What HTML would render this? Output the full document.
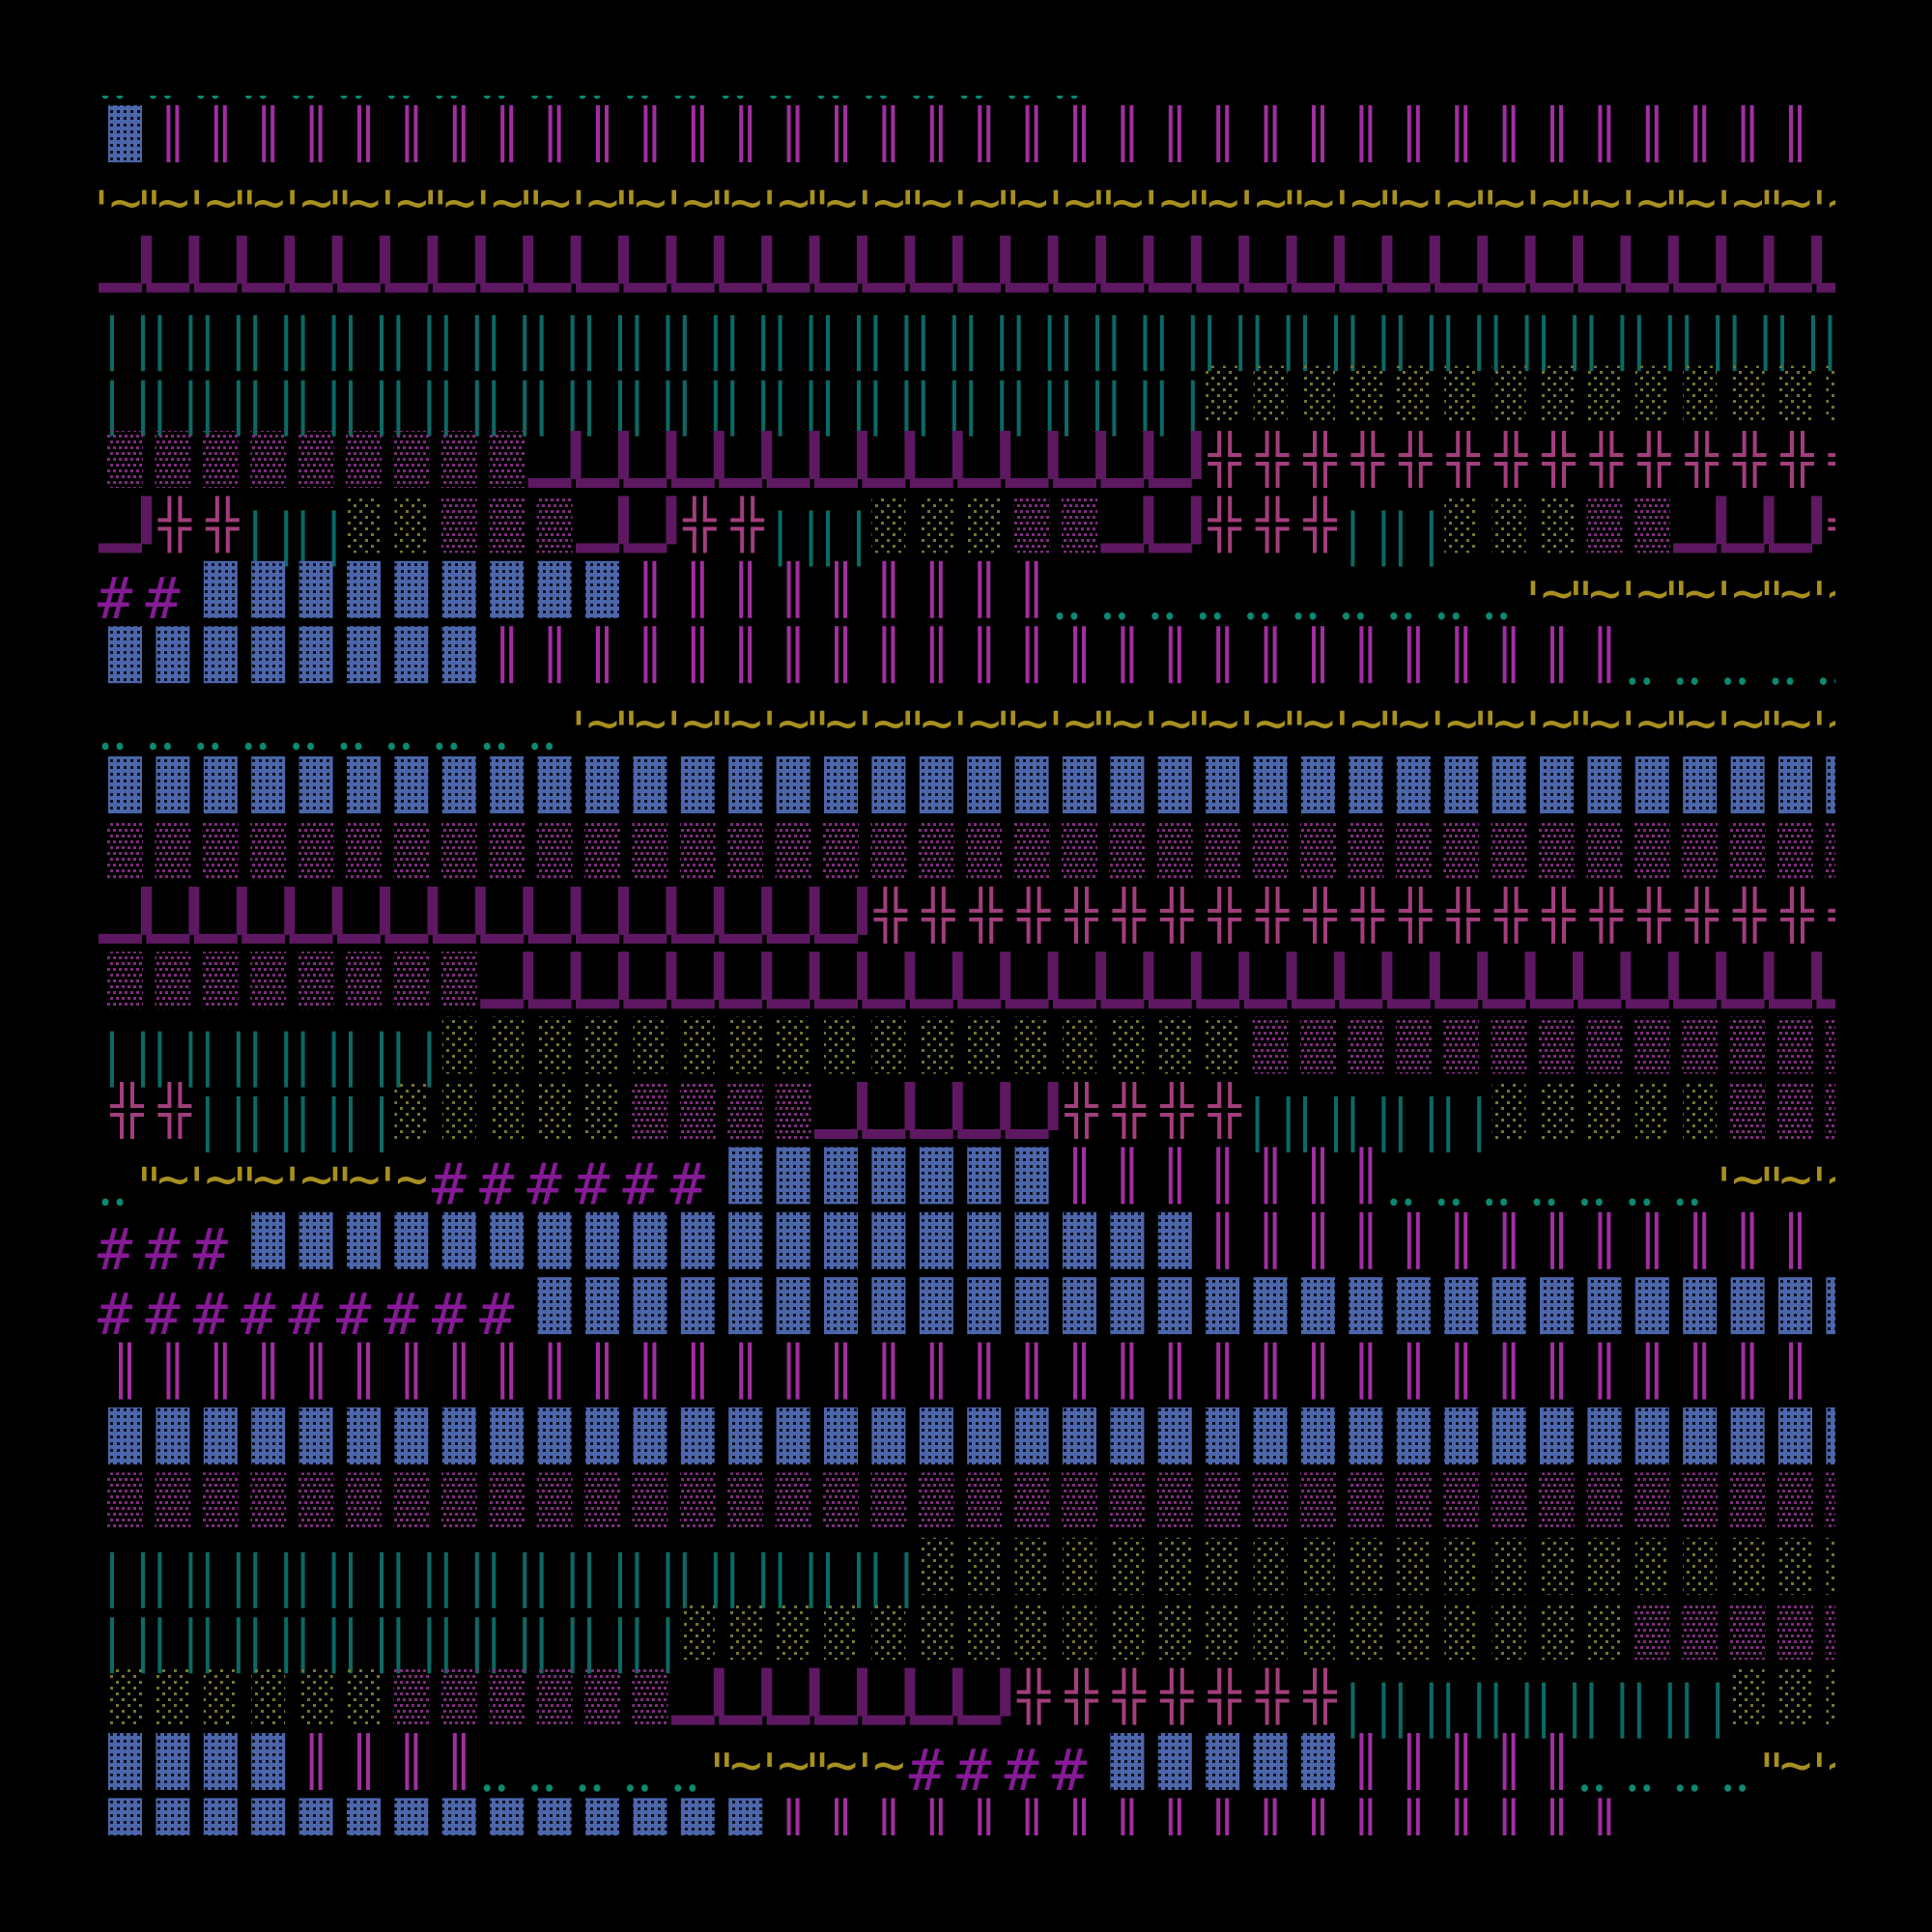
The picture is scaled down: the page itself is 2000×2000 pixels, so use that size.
<!DOCTYPE html>
<html><head><meta charset="utf-8"><style>
html,body{margin:0;padding:0;background:#000;width:2000px;height:2000px;overflow:hidden}
svg{display:block}
</style></head><body>
<svg id="art" width="2000" height="2000" viewBox="0 0 2000 2000" xmlns="http://www.w3.org/2000/svg">
<defs>
<pattern id="pB" width="7" height="7" patternUnits="userSpaceOnUse"><rect width="7" height="7" fill="#4c66aa"/><rect x="2" y="2" width="3" height="3" fill="#0c1020"/></pattern>
<pattern id="pP" width="12" height="12" patternUnits="userSpaceOnUse"><rect x="0" y="0" width="3" height="3" fill="#7e2c7c"/><rect x="6" y="0" width="3" height="3" fill="#7e2c7c"/><rect x="3" y="6" width="3" height="3" fill="#7e2c7c"/><rect x="9" y="6" width="3" height="3" fill="#7e2c7c"/></pattern>
<pattern id="pO" width="12" height="12" patternUnits="userSpaceOnUse"><rect x="0" y="0" width="3" height="3" fill="#76762e"/><rect x="6" y="6" width="3" height="3" fill="#76762e"/></pattern>
<clipPath id="clip"><rect x="100" y="99" width="1800" height="1801"/></clipPath>
</defs>
<rect width="2000" height="2000" fill="#000"/>
<g id="cells" clip-path="url(#clip)"></g>
</svg>
<script>
// Row sequences (one code per cell): B blue block, M magenta double bar, G quote+tilde,
// L purple corner, T teal bars, O olive shade, P purple shade, X pink cross, H hash, D teal dots, . empty
const rowCodes = [
"DDDDDDDDDDDDDDDDDDDDD................",
"BMMMMMMMMMMMMMMMMMMMMMMMMMMMMMMMMMMM.",
"GGGGGGGGGGGGGGGGGGGGGGGGGGGGGGGGGGGGG",
"LLLLLLLLLLLLLLLLLLLLLLLLLLLLLLLLLLLLL",
"TTTTTTTTTTTTTTTTTTTTTTTTTTTTTTTTTTTTT",
"TTTTTTTTTTTTTTTTTTTTTTTOOOOOOOOOOOOOO",
"PPPPPPPPPLLLLLLLLLLLLLLXXXXXXXXXXXXXX",
"LXXTTOOPPPLLXXTTOOOPPLLXXXTTOOOPPLLLX",
"HHBBBBBBBBBMMMMMMMMMDDDDDDDDDDGGGGGGG",
"BBBBBBBBMMMMMMMMMMMMMMMMMMMMMMMMDDDDD",
"DDDDDDDDDDGGGGGGGGGGGGGGGGGGGGGGGGGGG",
"BBBBBBBBBBBBBBBBBBBBBBBBBBBBBBBBBBBBB",
"PPPPPPPPPPPPPPPPPPPPPPPPPPPPPPPPPPPPP",
"LLLLLLLLLLLLLLLLXXXXXXXXXXXXXXXXXXXXX",
"PPPPPPPPLLLLLLLLLLLLLLLLLLLLLLLLLLLLL",
"TTTTTTTOOOOOOOOOOOOOOOOOPPPPPPPPPPPPP",
"XXTTTTOOOOOPPPPLLLLLXXXXTTTTTOOOOOPPP",
"DGGGGGGHHHHHHBBBBBBBMMMMMMMDDDDDDDGGG",
"HHHBBBBBBBBBBBBBBBBBBBBMMMMMMMMMMMMM.",
"HHHHHHHHHBBBBBBBBBBBBBBBBBBBBBBBBBBBB",
"MMMMMMMMMMMMMMMMMMMMMMMMMMMMMMMMMMMM.",
"BBBBBBBBBBBBBBBBBBBBBBBBBBBBBBBBBBBBB",
"PPPPPPPPPPPPPPPPPPPPPPPPPPPPPPPPPPPPP",
"TTTTTTTTTTTTTTTTTOOOOOOOOOOOOOOOOOOOO",
"TTTTTTTTTTTTOOOOOOOOOOOOOOOOOOOOPPPPP",
"OOOOOOPPPPPPLLLLLLLXXXXXXXTTTTTTTTOOO",
"BBBBMMMMDDDDDGGGGHHHHBBBBBMMMMMDDDDGG",
"BBBBBBBBBBBBBBMMMMMMMMMMMMMMMMMM....."
];
const colCount = [37];
</script>
<script>
(function(){
const g = document.getElementById('cells');
const NS = 'http://www.w3.org/2000/svg';
const X0 = 102, PX = 49.4, Y0 = 109 - 67.4, PY = 67.4;
function colX(c){ return X0 + c * PX; }
function rowY(r){ return Y0 + r * PY; }
function rect(parent, x, y, w, h, fill){
  const e = document.createElementNS(NS,'rect');
  e.setAttribute('x',x); e.setAttribute('y',y); e.setAttribute('width',w); e.setAttribute('height',h);
  e.setAttribute('fill',fill);
  parent.appendChild(e); return e;
}
function txt(parent, x, y, s, fill, size, anchor){
  const e = document.createElementNS(NS,'text');
  e.setAttribute('x',x); e.setAttribute('y',y); e.setAttribute('fill',fill);
  e.setAttribute('font-size',size);
  e.setAttribute('font-family','"DejaVu Sans Mono","Liberation Mono",monospace');
  if(anchor) e.setAttribute('text-anchor',anchor);
  e.textContent = s; parent.appendChild(e); return e;
}
const names = {B:'blue-block',M:'magenta-double-bar',G:'quote-tilde',L:'purple-corner',T:'teal-bars',O:'olive-shade',P:'purple-shade',X:'pink-cross',H:'hash-sign',D:'teal-dots'};
rowCodes.forEach(function(row, r){
  const rg = document.createElementNS(NS,'g');
  
  
  g.appendChild(rg);
  const T = rowY(r);
  for(let c=0;c<row.length;c++){
    const k = row[c]; if(k==='.') continue;
    const x = colX(c);
    const cg = document.createElementNS(NS,'g');
    
    
    rg.appendChild(cg);
    if(k==='B'){ rect(cg, x+10, T, 35, 59, 'url(#pB)'); }
    else if(k==='P'){ rect(cg, x+9, T, 37, 59, 'url(#pP)'); }
    else if(k==='O'){ rect(cg, x+10, T, 35, 59, 'url(#pO)'); }
    else if(k==='M'){ rect(cg, x+21, T, 4, 59, '#a22ea2'); rect(cg, x+30, T, 4, 59, '#a22ea2'); }
    else if(k==='T'){ rect(cg, x+12, T+15, 4, 58, '#0a6a64'); rect(cg, x+44, T+15, 4, 58, '#0a6a64'); }
    else if(k==='L'){ rect(cg, x, T+49, 45, 10, '#5e1862'); rect(cg, x+44, T, 11, 50, '#5e1862'); }
    else if(k==='D'){
      [7,22].forEach(function(dx){
        const e = document.createElementNS(NS,'ellipse');
        e.setAttribute('cx', x+dx); e.setAttribute('cy', T+57); e.setAttribute('rx',3.5); e.setAttribute('ry',3.8);
        e.setAttribute('fill','#0a8a72'); cg.appendChild(e);
      });
    }
    else if(k==='X'){
      const gx = x+12, col='#a23e7c';
      rect(cg, gx+10, T, 4, 27, col); rect(cg, gx+21, T, 4, 27, col);
      rect(cg, gx, T+23, 14, 4, col); rect(cg, gx+21, T+23, 14, 4, col);
      rect(cg, gx, T+32, 14, 4, col); rect(cg, gx+21, T+32, 14, 4, col);
      rect(cg, gx+10, T+32, 4, 27, col); rect(cg, gx+21, T+32, 4, 27, col);
    }
    else if(k==='G'){
      txt(cg, x+3, T+60, (c%2===0)?"'":'"', '#a89020', 54, 'middle');
      txt(cg, x+28, T+52, '~', '#a89020', 56, 'middle');
    }
    else if(k==='H'){ txt(cg, x+17, T+59, '#', '#861a96', 60, 'middle'); }
  }
});
})();
</script>
</body></html>
